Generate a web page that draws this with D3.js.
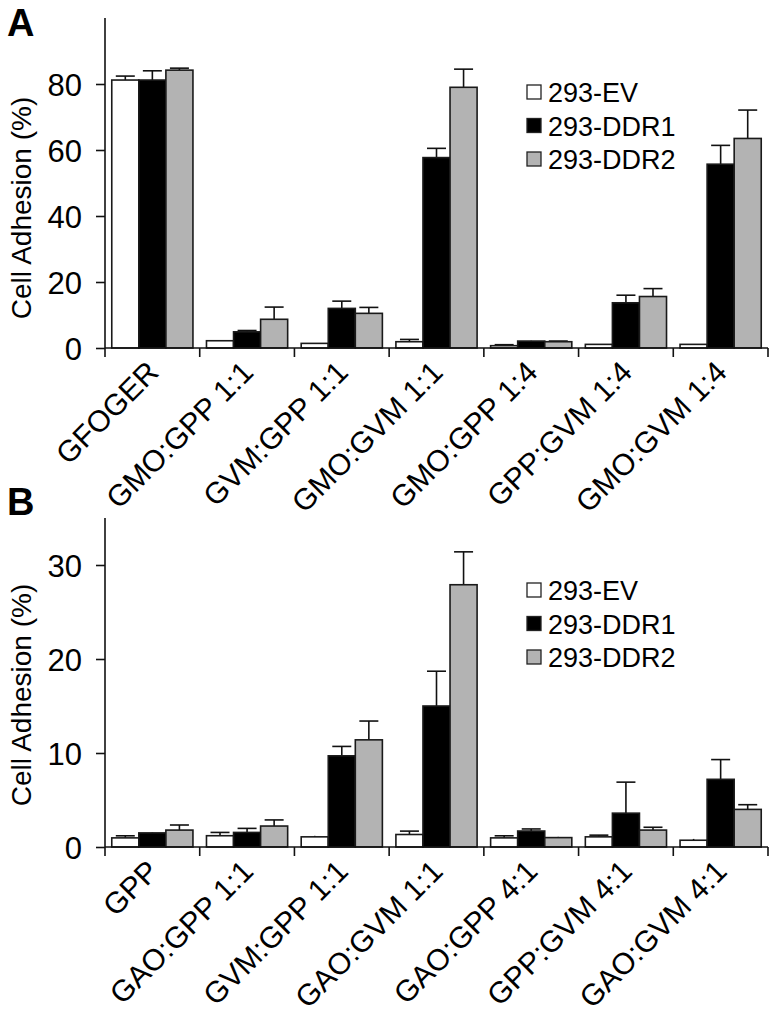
<!DOCTYPE html>
<html><head><meta charset="utf-8">
<script src="https://cdn.jsdelivr.net/npm/d3@7"></script>
<style>body{margin:0;background:#fff}svg{display:block}text{font-family:"Liberation Sans",Arial,sans-serif;fill:#000}</style>
</head><body><svg id="c" width="775" height="1033"></svg>
<script>
const series = ["293-EV","293-DDR1","293-DDR2"];
const seriesFill = ["#ffffff","#000000","#b3b3b3"];

const catsA = ["GFOGER","GMO:GPP 1:1","GVM:GPP 1:1","GMO:GVM 1:1","GMO:GPP 1:4","GPP:GVM 1:4","GMO:GVM 1:4"];
const evA   = [81.2, 2.2, 1.4, 1.9, 0.7, 1.1, 1.1];
const ddr1A = [81.2, 4.9, 12.0, 57.7, 2.1, 13.7, 55.7];
const ddr2A = [84.2, 8.7, 10.5, 79.0, 1.9, 15.6, 63.5];
const evAErr   = [1.2, 0.0, 0.0, 0.7, 0.3, 0.0, 0.0];
const ddr1AErr = [2.8, 0.4, 2.2, 2.8, 0.1, 2.3, 5.7];
const ddr2AErr = [0.6, 3.7, 1.8, 5.5, 0.2, 2.4, 8.6];
const ticksA = [0, 20, 40, 60, 80];

const catsB = ["GPP","GAO:GPP 1:1","GVM:GPP 1:1","GAO:GVM 1:1","GAO:GPP 4:1","GPP:GVM 4:1","GAO:GVM 4:1"];
const evB   = [0.97, 1.2, 1.08, 1.33, 0.97, 1.08, 0.72];
const ddr1B = [1.5, 1.55, 9.7, 15.0, 1.7, 3.6, 7.2];
const ddr2B = [1.8, 2.23, 11.4, 27.9, 1.0, 1.8, 4.0];
const evBErr   = [0.22, 0.35, 0.11, 0.36, 0.22, 0.18, 0.14];
const ddr1BErr = [0.05, 0.43, 1.0, 3.7, 0.22, 3.3, 2.1];
const ddr2BErr = [0.54, 0.65, 2.0, 3.5, 0.08, 0.3, 0.5];
const ticksB = [0, 10, 20, 30];

const svg = d3.select("#c");

function panel(cfg){
  const g = svg.append("g");
  const x = d3.scaleBand().domain(cfg.cats).range([105, 768]).paddingInner(0).paddingOuter(0);
  const xs = d3.scaleBand().domain(series).range([0, x.bandwidth()]).paddingInner(0).paddingOuter(0.25);
  const y = d3.scaleLinear().domain(cfg.domain).range([cfg.bottom, cfg.top]);
  const vals = [cfg.ev, cfg.d1, cfg.d2];
  const errs = [cfg.evE, cfg.d1E, cfg.d2E];

  series.forEach((s, si) => {
    const data = cfg.cats.map((c, i) => ({c, v: vals[si][i], e: errs[si][i]}));
    g.selectAll(null).data(data).enter().append("line")
      .attr("x1", d => x(d.c) + xs(s) + xs.bandwidth()/2)
      .attr("x2", d => x(d.c) + xs(s) + xs.bandwidth()/2)
      .attr("y1", d => y(d.v)).attr("y2", d => y(d.v + d.e))
      .attr("stroke", "#111").attr("stroke-width", 1.6);
    g.selectAll(null).data(data.filter(d => d.e > 0.15)).enter().append("line")
      .attr("x1", d => x(d.c) + xs(s) + xs.bandwidth()/2 - 9.5)
      .attr("x2", d => x(d.c) + xs(s) + xs.bandwidth()/2 + 9.5)
      .attr("y1", d => y(d.v + d.e)).attr("y2", d => y(d.v + d.e))
      .attr("stroke", "#111").attr("stroke-width", 1.6);
    g.selectAll(null).data(data).enter().append("rect")
      .attr("x", d => x(d.c) + xs(s))
      .attr("width", xs.bandwidth())
      .attr("y", d => y(d.v))
      .attr("height", d => y(0) - y(d.v))
      .attr("fill", seriesFill[si])
      .attr("stroke", "#1a1a1a").attr("stroke-width", 1.6);
  });

  const ya = d3.axisLeft(y).tickValues(cfg.ticks).tickSize(9).tickPadding(14).tickFormat(d3.format("d"));
  const yg = g.append("g").attr("transform", "translate(105,0)").call(ya);
  yg.select(".domain").attr("d", `M-0,${cfg.bottom}V${cfg.top}`).attr("stroke", "#111").attr("stroke-width", 1.6);
  yg.selectAll(".tick line").attr("stroke", "#111").attr("stroke-width", 1.6);
  yg.selectAll(".tick text").attr("font-size", 31).attr("font-family", "Liberation Sans, Arial, sans-serif").attr("fill", "#000").attr("dy", "0.36em");

  const bounds = cfg.cats.map(c => x(c)).concat([x.range()[1]]);
  g.append("line").attr("x1", 105).attr("x2", x.range()[1]).attr("y1", y(0)).attr("y2", y(0))
    .attr("stroke", "#111").attr("stroke-width", 1.6);
  g.selectAll(null).data(bounds).enter().append("line")
    .attr("x1", d => d).attr("x2", d => d).attr("y1", y(0)).attr("y2", y(0) + 9)
    .attr("stroke", "#111").attr("stroke-width", 1.6);
  g.selectAll(null).data(cfg.cats).enter().append("text")
    .attr("transform", c => `translate(${x(c) + x.bandwidth()/2 + 8},${y(0) + 26}) rotate(-45)`)
    .attr("text-anchor", "end").attr("font-size", 30).text(c => c);

  g.append("text").attr("transform", `translate(31,${cfg.titleY}) rotate(-90)`)
    .attr("text-anchor", "middle").attr("font-size", 28).text("Cell Adhesion (%)");

  g.append("text").attr("x", 7).attr("y", cfg.letterY).attr("font-size", 38).attr("font-weight", "bold").text(cfg.letter);

  series.forEach((s, si) => {
    const cy = cfg.top + cfg.legOff + si * 33.5;
    g.append("rect").attr("x", 527).attr("y", cy - 7).attr("width", 14).attr("height", 14)
      .attr("fill", seriesFill[si]).attr("stroke", "#222").attr("stroke-width", 1.3);
    g.append("text").attr("x", 548).attr("y", cy + 10).attr("font-size", 27).text(s);
  });
}

panel({cats: catsA, ev: evA, d1: ddr1A, d2: ddr2A, evE: evAErr, d1E: ddr1AErr, d2E: ddr2AErr,
  ticks: ticksA, domain: [0, 100], top: 18, bottom: 348, titleY: 208, letter: "A", letterY: 36, legOff: 74});
panel({cats: catsB, ev: evB, d1: ddr1B, d2: ddr2B, evE: evBErr, d1E: ddr1BErr, d2E: ddr2BErr,
  ticks: ticksB, domain: [0, 35], top: 518, bottom: 847, titleY: 695, letter: "B", letterY: 515, legOff: 72});
</script></body></html>
